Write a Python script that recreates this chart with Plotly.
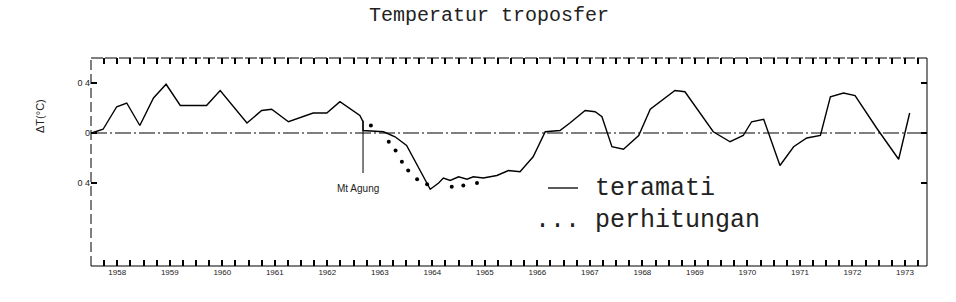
import plotly.graph_objects as go

# Observed tropospheric temperature anomaly (teramati)
obs_year = [1958.01, 1958.23, 1958.49, 1958.68, 1958.93, 1959.19, 1959.43, 1959.70,
            1960.20, 1960.46, 1960.97, 1961.25, 1961.44, 1961.76, 1962.23, 1962.49,
            1962.74, 1963.12, 1963.18, 1963.18, 1963.57, 1963.79, 1964.01, 1964.27,
            1964.46, 1964.62, 1964.71, 1964.84, 1965.00, 1965.16, 1965.28, 1965.47,
            1965.73, 1965.95, 1966.17, 1966.42, 1966.65, 1966.93, 1967.12, 1967.41,
            1967.60, 1967.73, 1967.92, 1968.14, 1968.43, 1968.65, 1968.84, 1969.12,
            1969.31, 1969.66, 1969.85, 1970.17, 1970.42, 1970.58, 1970.81, 1971.12,
            1971.38, 1971.63, 1971.89, 1972.08, 1972.33, 1972.55, 1972.96, 1973.38,
            1973.59]
obs_dT = [0.00, 0.03, 0.21, 0.24, 0.06, 0.28, 0.39, 0.22,
          0.22, 0.34, 0.08, 0.18, 0.19, 0.09, 0.16, 0.16,
          0.25, 0.14, 0.09, 0.02, 0.01, -0.03, -0.10, -0.30,
          -0.45, -0.40, -0.36, -0.38, -0.35, -0.37, -0.35, -0.36,
          -0.34, -0.30, -0.31, -0.19, 0.01, 0.02, 0.08, 0.18,
          0.17, 0.13, -0.11, -0.13, -0.02, 0.19, 0.25, 0.34,
          0.33, 0.12, 0.01, -0.07, -0.02, 0.09, 0.11, -0.26,
          -0.11, -0.04, -0.02, 0.29, 0.32, 0.30, 0.04, -0.21,
          0.16]

# Computed response (perhitungan)
calc_year = [1963.33, 1963.67, 1963.80, 1963.92, 1964.04, 1964.21, 1964.40,
             1964.87, 1965.09, 1965.35]
calc_dT = [0.06, -0.07, -0.14, -0.23, -0.30, -0.37, -0.41,
           -0.43, -0.42, -0.40]

years = list(range(1958, 1974))
year_labels = [str(y) for y in years]
y_ticks = [-0.4, 0, 0.4]
y_labels = ["0 4", "0", "0 4"]

agung_year = 1963.18
agung_top, agung_bottom = 0.10, -0.32

x_min, x_max = 1958, 1973.92
y_min, y_max = -1.064, 0.6

# quarterly tick marks, year labels at mid-year
x_tickvals = [y + q / 4 for y in years for q in range(4)]
x_ticktext = [(str(y) if q == 2 else "") for y in years for q in range(4)]

fig = go.Figure()
fig.add_trace(go.Scatter(x=obs_year, y=obs_dT, mode="lines",
                         line=dict(color="black", width=1.4),
                         name="teramati", showlegend=False))
fig.add_trace(go.Scatter(x=calc_year, y=calc_dT, mode="markers",
                         marker=dict(color="black", size=4),
                         name="perhitungan", showlegend=False))
# invisible helper trace on the top/right axes so their ticks get drawn
fig.add_trace(go.Scatter(x=[x_min], y=[0], xaxis="x2", yaxis="y2", mode="markers",
                         marker=dict(opacity=0), showlegend=False, hoverinfo="skip"))

mono = "Liberation Mono, Courier New, monospace"

tick_common = dict(showgrid=False, zeroline=False, showline=False,
                   ticks="inside", ticklen=6, tickwidth=1.5, tickcolor="black",
                   layer="above traces")

fig.update_layout(
    width=956, height=302,
    margin=dict(l=91, r=29, t=58, b=36),
    paper_bgcolor="white", plot_bgcolor="white",
    xaxis=dict(range=[x_min, x_max], tickvals=x_tickvals, ticktext=x_ticktext,
               tickfont=dict(size=8, color="#222", family="Liberation Sans"),
               **tick_common),
    xaxis2=dict(range=[x_min, x_max], overlaying="x", side="top",
                tickvals=x_tickvals, showticklabels=False, **tick_common),
    yaxis=dict(range=[y_min, y_max], tickvals=y_ticks, ticktext=y_labels,
               tickfont=dict(size=9, color="#222", family="Liberation Sans"),
               **tick_common),
    yaxis2=dict(range=[y_min, y_max], overlaying="y", side="right",
                tickvals=y_ticks, showticklabels=False, **tick_common),
    shapes=[
        dict(type="line", xref="paper", yref="paper", x0=0, x1=1, y0=1, y1=1,
             line=dict(color="black", width=1, dash="12px,2px")),
        dict(type="line", xref="paper", yref="paper", x0=0, x1=0, y0=0, y1=1,
             line=dict(color="black", width=1, dash="10px,4px")),
        dict(type="line", xref="paper", yref="paper", x0=1, x1=1, y0=0, y1=1,
             line=dict(color="black", width=1)),
        dict(type="line", xref="paper", yref="paper", x0=0, x1=1, y0=0, y1=0,
             line=dict(color="black", width=1)),
        dict(type="line", xref="paper", yref="y", x0=0, x1=1, y0=0, y1=0,
             line=dict(color="black", width=1.1, dash="16px,3px,2px,3px")),
        dict(type="line", xref="x", yref="y", x0=agung_year, x1=agung_year,
             y0=agung_top, y1=agung_bottom, line=dict(color="black", width=1)),
        # legend line sample
        dict(type="line", xref="paper", yref="paper",
             x0=(548 - 91) / 836, x1=(578 - 91) / 836,
             y0=(266 - 188) / 208, y1=(266 - 188) / 208,
             line=dict(color="black", width=1.3)),
    ],
    annotations=[
        dict(text="Temperatur troposfer", xref="paper", yref="paper",
             x=(489 - 91) / 836, y=(266 - 15) / 208, showarrow=False,
             xanchor="center", yanchor="middle",
             font=dict(family=mono, size=20, color="#222")),
        dict(text="ΔT(°C)", xref="paper", yref="paper",
             x=(40 - 91) / 836, y=(266 - 116) / 208, showarrow=False,
             textangle=-90, xanchor="center", yanchor="middle",
             font=dict(family="Liberation Sans", size=11, color="#222")),
        dict(text="Mt Agung", xref="x", yref="y", x=agung_year - 0.1, y=-0.44,
             showarrow=False, xanchor="center", yanchor="middle",
             font=dict(family="Liberation Sans", size=10, color="#222")),
        dict(text="teramati", xref="paper", yref="paper",
             x=(593 - 91) / 836, y=(266 - 188) / 208, showarrow=False,
             xanchor="left", yanchor="middle",
             font=dict(family=mono, size=25, color="#222")),
        dict(text="... perhitungan", xref="paper", yref="paper",
             x=(533 - 91) / 836, y=(266 - 220) / 208, showarrow=False,
             xanchor="left", yanchor="middle",
             font=dict(family=mono, size=25, color="#222")),
    ],
)

fig.write_html("out.html")
